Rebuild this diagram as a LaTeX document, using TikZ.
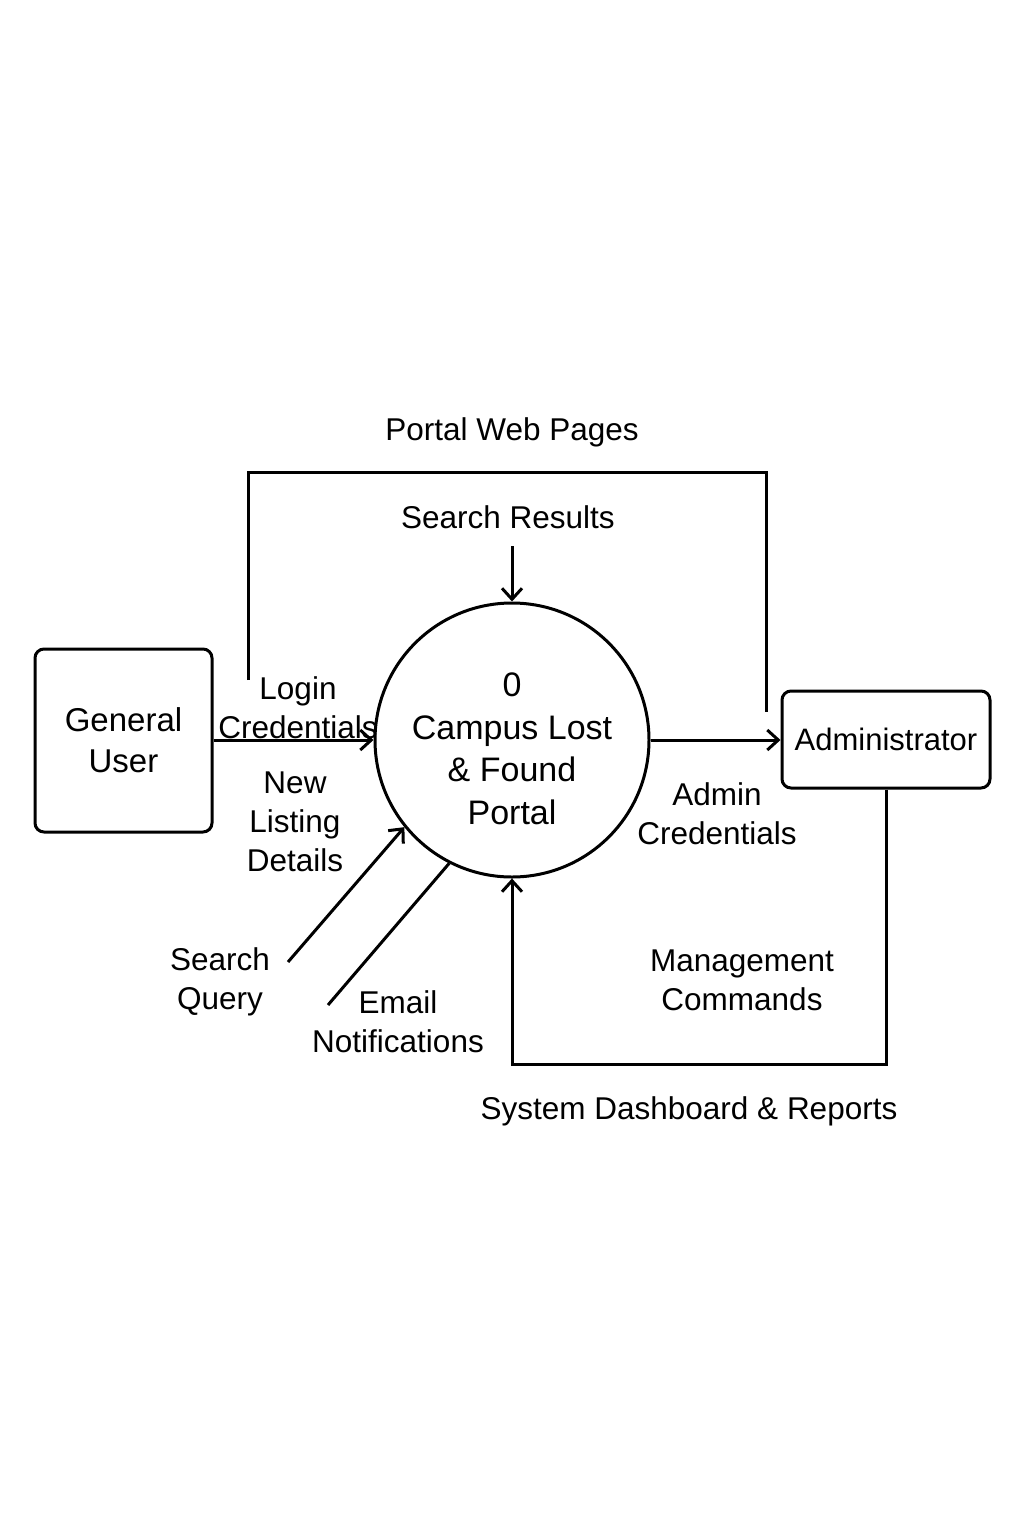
\documentclass[tikz,border=0pt]{standalone}
\usepackage{fontspec}
\setmainfont{Liberation Sans}
\usetikzlibrary{arrows.meta}
\begin{document}
\begin{tikzpicture}[x=1pt,y=-1pt,
  line width=3pt,
  flow/.style={-{Straight Barb[length=11pt,width=20pt,line width=3pt]}},
  lbl/.style={inner sep=0pt,align=center,font=\fontsize{31.5}{39}\selectfont},
  entity/.style={draw,rounded corners=9pt,inner sep=0pt,align=center},
  process/.style={draw,circle,minimum size=274pt,inner sep=0pt,align=center,font=\fontsize{34}{42.5}\selectfont}]
\useasboundingbox[fill=white] (0,0) rectangle (1024,1536);

% external entities and the process
\node[entity,minimum width=177pt,minimum height=183pt,font=\fontsize{33}{41}\selectfont] (gu) at (123.5,740.5) {General\\User};
\node[process] (proc) at (512,740) {};
\node[inner sep=0pt,align=center,font=\fontsize{34}{42.5}\selectfont] (ptext) at (512,749) {0\\Campus Lost\\\& Found\\Portal};
\node[entity,minimum width=208pt,minimum height=97pt,font=\fontsize{31}{38}\selectfont] (admin) at (886,739.5) {Administrator};

% free ends of connectors
\coordinate (pwpA) at (248,680);
\coordinate (pwpB) at (766,712);
\coordinate (srA) at (512,546);
\coordinate (sqA) at (288,962);
\coordinate (emA) at (328,1005);

% connectors
\draw (pwpA) |- (507,472) -| (pwpB);
\draw[flow] (srA) -- (proc.north);
\draw[flow] (gu.east |- proc.west) -- (proc.west);
\draw[flow] (proc.east) -- (admin.west |- proc.east);
\draw[flow] (sqA) -- (proc.219);
\draw (emA) -- (proc.243.5);
\draw[flow] (admin.south) -- ++(0,275) -| (proc.south);

% flow labels
\node[lbl] (lpwp) at (512,432) {Portal Web Pages};
\node[lbl] (lsr) at (508,517) {Search Results};
\node[lbl] (llc) at (298,708) {Login\\Credentials};
\node[lbl] (lnl) at (295,822) {New\\Listing\\Details};
\node[lbl] (lac) at (717,814) {Admin\\Credentials};
\node[lbl] (lsq) at (220,982) {Search\\Query};
\node[lbl] (lem) at (398,1022) {Email\\Notifications};
\node[lbl] (lmc) at (742,980) {Management\\Commands};
\node[lbl] (lsd) at (689,1111) {System Dashboard \& Reports};
\end{tikzpicture}
\end{document}
